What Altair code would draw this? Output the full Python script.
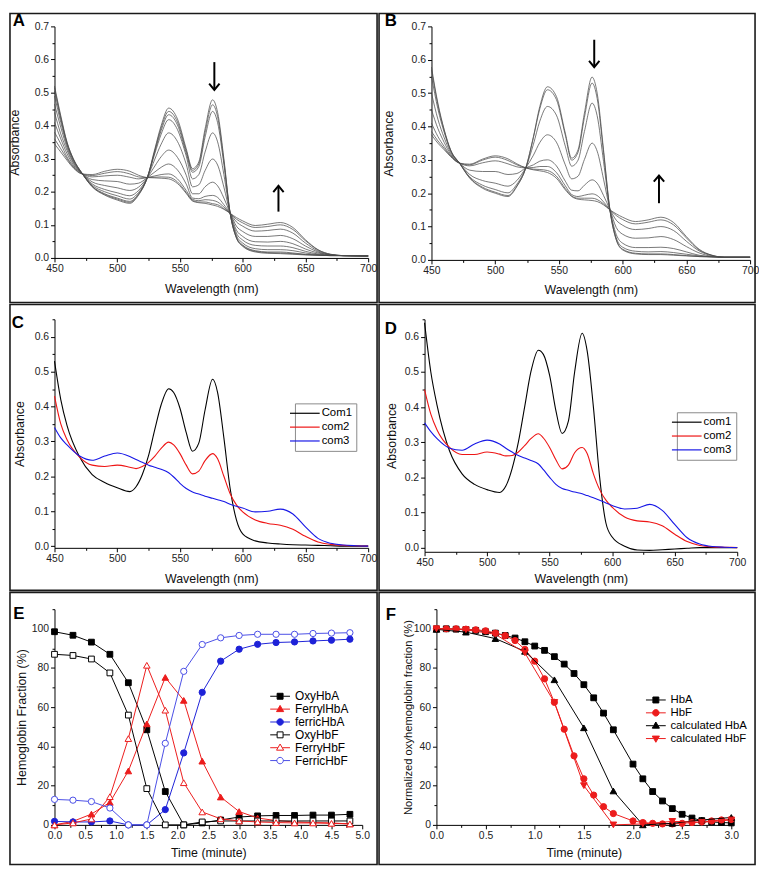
import altair as alt
import pandas as pd

FONT = "Liberation Sans"

# ---------------- data: panels A and B (time-resolved spectra) ----------------
WL_AB = [450, 455, 460, 465, 472, 480, 490, 500, 510, 517, 524, 530, 535, 541, 548, 555, 560,
         565, 570, 576, 580, 585, 590, 595, 600, 610, 620, 630, 640, 650, 660, 670, 680, 700]

A_ROWS = [
    [0.52, 0.515, 0.505, 0.49, 0.465, 0.44, 0.41, 0.38, 0.36, 0.345],
    [0.43, 0.425, 0.42, 0.41, 0.395, 0.375, 0.36, 0.345, 0.33, 0.32],
    [0.35, 0.348, 0.345, 0.34, 0.333, 0.325, 0.315, 0.305, 0.3, 0.295],
    [0.3, 0.299, 0.297, 0.294, 0.29, 0.286, 0.281, 0.277, 0.274, 0.272],
    [0.256, 0.256, 0.255, 0.255, 0.255, 0.255, 0.255, 0.255, 0.254, 0.254],
    [0.215, 0.216, 0.217, 0.22, 0.224, 0.23, 0.237, 0.245, 0.249, 0.252],
    [0.19, 0.192, 0.194, 0.2, 0.207, 0.219, 0.233, 0.248, 0.256, 0.262],
    [0.175, 0.178, 0.181, 0.188, 0.197, 0.212, 0.231, 0.25, 0.261, 0.268],
    [0.165, 0.168, 0.171, 0.178, 0.188, 0.204, 0.223, 0.244, 0.254, 0.262],
    [0.19, 0.192, 0.194, 0.198, 0.204, 0.214, 0.226, 0.239, 0.245, 0.25],
    [0.243, 0.243, 0.243, 0.243, 0.243, 0.243, 0.243, 0.243, 0.243, 0.243],
    [0.33, 0.326, 0.322, 0.316, 0.299, 0.278, 0.26, 0.248, 0.244, 0.242],
    [0.4, 0.393, 0.385, 0.374, 0.344, 0.306, 0.274, 0.252, 0.245, 0.241],
    [0.453, 0.443, 0.433, 0.418, 0.378, 0.326, 0.284, 0.254, 0.244, 0.239],
    [0.42, 0.411, 0.402, 0.388, 0.352, 0.304, 0.266, 0.239, 0.23, 0.225],
    [0.33, 0.324, 0.317, 0.308, 0.283, 0.25, 0.223, 0.204, 0.198, 0.195],
    [0.27, 0.265, 0.259, 0.239, 0.215, 0.194, 0.181, 0.177, 0.174, 0.172],
    [0.29, 0.284, 0.276, 0.252, 0.221, 0.194, 0.179, 0.173, 0.169, 0.167],
    [0.39, 0.379, 0.365, 0.32, 0.264, 0.215, 0.186, 0.176, 0.169, 0.165],
    [0.478, 0.463, 0.443, 0.378, 0.299, 0.229, 0.189, 0.174, 0.164, 0.16],
    [0.44, 0.427, 0.409, 0.351, 0.281, 0.218, 0.183, 0.169, 0.161, 0.156],
    [0.3, 0.293, 0.283, 0.252, 0.214, 0.181, 0.161, 0.154, 0.149, 0.147],
    [0.135, 0.135, 0.135, 0.135, 0.135, 0.135, 0.135, 0.135, 0.135, 0.135],
    [0.06, 0.061, 0.063, 0.068, 0.075, 0.084, 0.096, 0.109, 0.117, 0.122],
    [0.035, 0.037, 0.039, 0.045, 0.054, 0.065, 0.08, 0.096, 0.106, 0.112],
    [0.018, 0.02, 0.022, 0.028, 0.038, 0.049, 0.065, 0.081, 0.092, 0.098],
    [0.014, 0.016, 0.018, 0.025, 0.036, 0.048, 0.065, 0.083, 0.095, 0.102],
    [0.013, 0.015, 0.018, 0.025, 0.036, 0.05, 0.068, 0.087, 0.1, 0.107],
    [0.011, 0.013, 0.015, 0.022, 0.031, 0.043, 0.058, 0.075, 0.086, 0.092],
    [0.009, 0.01, 0.011, 0.015, 0.02, 0.027, 0.036, 0.045, 0.052, 0.055],
    [0.008, 0.008, 0.009, 0.01, 0.012, 0.015, 0.018, 0.021, 0.024, 0.025],
    [0.007, 0.007, 0.007, 0.008, 0.008, 0.009, 0.009, 0.01, 0.011, 0.011],
    [0.007, 0.007, 0.007, 0.007, 0.007, 0.007, 0.007, 0.007, 0.007, 0.007],
    [0.006, 0.006, 0.006, 0.006, 0.006, 0.006, 0.006, 0.006, 0.006, 0.006],
]

B_ROWS = [
    [0.578, 0.57, 0.55, 0.5, 0.45, 0.41, 0.385, 0.375],
    [0.47, 0.465, 0.453, 0.422, 0.394, 0.37, 0.357, 0.35],
    [0.39, 0.388, 0.382, 0.366, 0.352, 0.34, 0.334, 0.33],
    [0.33, 0.329, 0.327, 0.322, 0.317, 0.313, 0.311, 0.31],
    [0.29, 0.29, 0.29, 0.29, 0.29, 0.29, 0.29, 0.29],
    [0.245, 0.246, 0.249, 0.256, 0.269, 0.282, 0.285, 0.287],
    [0.215, 0.218, 0.224, 0.238, 0.265, 0.291, 0.299, 0.302],
    [0.2, 0.203, 0.211, 0.23, 0.265, 0.297, 0.308, 0.312],
    [0.19, 0.193, 0.201, 0.221, 0.256, 0.288, 0.298, 0.303],
    [0.22, 0.222, 0.227, 0.238, 0.259, 0.279, 0.285, 0.288],
    [0.276, 0.276, 0.276, 0.276, 0.276, 0.276, 0.276, 0.276],
    [0.37, 0.367, 0.347, 0.314, 0.285, 0.277, 0.272, 0.27],
    [0.46, 0.453, 0.416, 0.352, 0.296, 0.28, 0.271, 0.267],
    [0.519, 0.51, 0.46, 0.375, 0.3, 0.28, 0.268, 0.262],
    [0.49, 0.481, 0.434, 0.353, 0.282, 0.262, 0.251, 0.245],
    [0.38, 0.374, 0.341, 0.285, 0.236, 0.222, 0.214, 0.21],
    [0.305, 0.299, 0.281, 0.243, 0.209, 0.196, 0.192, 0.19],
    [0.33, 0.323, 0.299, 0.251, 0.207, 0.19, 0.185, 0.182],
    [0.44, 0.427, 0.385, 0.301, 0.224, 0.194, 0.185, 0.18],
    [0.548, 0.53, 0.47, 0.35, 0.24, 0.198, 0.185, 0.178],
    [0.5, 0.484, 0.432, 0.326, 0.23, 0.193, 0.181, 0.175],
    [0.33, 0.322, 0.295, 0.242, 0.193, 0.174, 0.168, 0.165],
    [0.15, 0.15, 0.15, 0.15, 0.15, 0.15, 0.15, 0.15],
    [0.06, 0.061, 0.066, 0.076, 0.097, 0.119, 0.133, 0.138],
    [0.03, 0.032, 0.038, 0.05, 0.077, 0.104, 0.121, 0.128],
    [0.018, 0.02, 0.026, 0.037, 0.065, 0.091, 0.108, 0.115],
    [0.016, 0.018, 0.024, 0.037, 0.066, 0.094, 0.113, 0.12],
    [0.016, 0.018, 0.025, 0.038, 0.07, 0.1, 0.12, 0.128],
    [0.014, 0.016, 0.022, 0.034, 0.061, 0.088, 0.105, 0.112],
    [0.012, 0.013, 0.017, 0.024, 0.04, 0.056, 0.066, 0.07],
    [0.01, 0.01, 0.012, 0.014, 0.021, 0.027, 0.03, 0.032],
    [0.009, 0.009, 0.009, 0.01, 0.011, 0.013, 0.014, 0.014],
    [0.008, 0.008, 0.008, 0.008, 0.008, 0.008, 0.008, 0.008],
    [0.008, 0.008, 0.008, 0.008, 0.008, 0.008, 0.008, 0.008],
]

ARROWS_A = {"x": [577.4, 628.5], "tail": [0.592, 0.140], "tip": [0.508, 0.218]}
ARROWS_B = {"x": [577.7, 628.5], "tail": [0.66, 0.17], "tip": [0.578, 0.253]}

# ---------------- data: panels C and D (component spectra) ----------------
WL_CD = [450, 455, 460, 470, 480, 490, 500, 510, 515, 520, 525, 530, 535, 541, 545, 550, 555, 560,
         565, 570, 576, 580, 585, 590, 595, 600, 610, 620, 630, 640, 650, 660, 670, 680, 690, 700]
C_COM1 = [0.53, 0.42, 0.345, 0.255, 0.205, 0.182, 0.167, 0.156, 0.17, 0.205, 0.26, 0.335, 0.405, 0.451,
          0.44, 0.395, 0.325, 0.272, 0.295, 0.39, 0.478, 0.44, 0.31, 0.165, 0.075, 0.035, 0.015, 0.009,
          0.006, 0.004, 0.003, 0.002, 0.001, 0.0, 0.0, 0.0]
C_COM2 = [0.43, 0.35, 0.305, 0.255, 0.232, 0.228, 0.232, 0.226, 0.222, 0.228, 0.24, 0.258, 0.28, 0.298,
          0.29, 0.265, 0.232, 0.207, 0.215, 0.245, 0.265, 0.25, 0.2, 0.15, 0.118, 0.098, 0.075, 0.065,
          0.06, 0.048, 0.028, 0.012, 0.005, 0.002, 0.001, 0.0]
C_COM3 = [0.34, 0.31, 0.29, 0.258, 0.246, 0.258, 0.267, 0.257, 0.248, 0.24, 0.232, 0.226, 0.22, 0.21,
          0.198, 0.18, 0.165, 0.155, 0.149, 0.143, 0.137, 0.133, 0.128, 0.12, 0.114, 0.109, 0.098, 0.1,
          0.106, 0.092, 0.055, 0.022, 0.008, 0.003, 0.001, 0.0]
D_COM1 = [0.64, 0.5, 0.405, 0.275, 0.21, 0.18, 0.165, 0.157, 0.175, 0.225, 0.3, 0.4, 0.5, 0.562,
          0.55, 0.49, 0.39, 0.325, 0.36, 0.5, 0.61, 0.56, 0.4, 0.2, 0.07, 0.03, 0.004, -0.007,
          -0.008, -0.006, -0.004, -0.002, 0.0, 0.0, 0.0, 0.0]
D_COM2 = [0.45, 0.38, 0.335, 0.285, 0.265, 0.265, 0.272, 0.266, 0.261, 0.262, 0.272, 0.29, 0.31, 0.324,
          0.312, 0.285, 0.25, 0.224, 0.235, 0.27, 0.285, 0.268, 0.21, 0.165, 0.135, 0.115, 0.087, 0.076,
          0.073, 0.062, 0.038, 0.017, 0.006, 0.002, 0.001, 0.0]
D_COM3 = [0.355, 0.33, 0.31, 0.283, 0.277, 0.295, 0.306, 0.295, 0.283, 0.272, 0.262, 0.255, 0.248, 0.238,
          0.222, 0.2, 0.18, 0.168, 0.163, 0.158, 0.153, 0.148, 0.142, 0.135, 0.127, 0.12, 0.11, 0.112,
          0.123, 0.106, 0.066, 0.028, 0.01, 0.003, 0.001, 0.0]

# ---------------- data: panel E (species fractions) ----------------
E_T = [0.0, 0.3, 0.6, 0.9, 1.2, 1.5, 1.8, 2.1, 2.4, 2.7, 3.0, 3.3, 3.6, 3.9, 4.2, 4.5, 4.8]
E_SERIES = {
    "OxyHbA":    [98.5, 96.7, 93.2, 87, 72.5, 48.5, 17, 0, 1, 2.5, 4, 4.6, 4.8, 4.8, 5, 5, 5.4],
    "FerrylHbA": [0, 1.8, 5.5, 11.5, 27.5, 51.5, 75.2, 63.5, 32.5, 14.2, 6.8, 3.5, 2.2, 1.5, 1.2, 1, 0.5],
    "ferricHbA": [1.8, 1.5, 1.5, 2, 0, 0, 7.8, 36.7, 67.6, 83.5, 89.6, 92.1, 93, 93.3, 93.8, 94.2, 94.7],
    "OxyHbF":    [87, 86.4, 84.6, 77.5, 56, 18.5, 0, 0, 1.5, 2, 2, 2, 2, 2, 2, 2, 2],
    "FerryHbF":  [0, 1, 3, 14.4, 44, 81.4, 58.5, 21.5, 6.6, 3.1, 2, 1.5, 1.2, 1, 1, 0.8, 0.5],
    "FerricHbF": [13, 12.6, 11.9, 8.6, 0, 0, 41.6, 78.3, 92, 95.4, 96.6, 97.2, 97.2, 97.2, 97.6, 97.8, 98],
}
E_NAMES = ["OxyHbA", "FerrylHbA", "ferricHbA", "OxyHbF", "FerryHbF", "FerricHbF"]
E_STROKE = ["#000000", "#ec1c1c", "#1e22d8", "#000000", "#ec1c1c", "#4a4ee6"]
E_FILL = ["#000000", "#ec1c1c", "#1e22d8", "#ffffff", "#ffffff", "#ffffff"]
E_SHAPE = ["square", "triangle-up", "circle", "square", "triangle-up", "circle"]

# ---------------- data: panel F (normalized oxyhemoglobin) ----------------
F_T = [0.0, 0.1, 0.2, 0.3, 0.4, 0.5, 0.6, 0.7, 0.8, 0.9, 1.0, 1.1, 1.2, 1.3, 1.4, 1.5, 1.6, 1.7, 1.8,
       2.0, 2.1, 2.2, 2.3, 2.4, 2.5, 2.6, 2.7, 2.8, 2.9, 3.0]
F_HBA = [100, 100, 99.8, 99.6, 99.2, 98.5, 97.8, 96.6, 95.3, 93.4, 91.2, 89, 85.8, 82, 77.2, 71.5, 64.8,
         57, 48.5, 31, 23.5, 17, 12.2, 8.3, 5.4, 3.5, 2.2, 1.5, 1.2, 1]
F_HBF = [100, 100, 100, 99.8, 99.5, 99, 97.8, 96.5, 94, 89.5, 83.5, 74.5, 62.5, 48.8, 35.2, 23.5, 15.2,
         9.3, 5.8, 2, 1.2, 0.8, 0.5, 0.5, 0.8, 1.2, 1.5, 2, 2.5, 2.8]
F_TC = [0.0, 0.3, 0.6, 0.9, 1.2, 1.5, 1.8, 2.1, 2.4, 2.7, 3.0]
F_CALC_HBA = [99.7, 98.3, 95, 88.5, 74, 49.5, 17.3, 0, 0.8, 2.5, 3.8]
F_CALC_HBF = [100, 99.5, 97.2, 87.7, 62.5, 20, 0, 0.5, 1.8, 1.3, 2.5]
F_NAMES = ["HbA", "HbF", "calculated HbA", "calculated HbF"]
F_COLORS = ["#000000", "#ec1c1c", "#000000", "#ec1c1c"]
F_SHAPE = ["square", "circle", "triangle-up", "triangle-down"]

# legend symbols: line segment + marker (normalised symbol paths)
SEG = "M-2,0H-0.62M0.62,0H2"
P_SQUARE = SEG + "M-0.6,-0.6H0.6V0.6H-0.6Z"
P_TRI_UP = "M-2,0H-0.45M0.45,0H2M0,-0.75L0.72,0.5H-0.72Z"
P_TRI_DN = "M-2,0H-0.45M0.45,0H2M0,0.75L0.72,-0.5H-0.72Z"
P_CIRCLE = SEG + "M0.65,0A0.65,0.65,0,1,1,-0.65,0A0.65,0.65,0,1,1,0.65,0Z"

# ---------------- helpers ----------------
def frame(L, W, R, T, H, B):
    return alt.Chart(alt.Data(values=[{"k": 1}])).mark_rect(
        filled=False, stroke="#1a1a1a", strokeWidth=1.6
    ).encode(x=alt.value(-L), x2=alt.value(W + R), y=alt.value(-T), y2=alt.value(H + B))


def letter(ch, dx, dy):
    return alt.Chart(alt.Data(values=[{"t": ch}])).mark_text(
        font=FONT, fontSize=17, fontWeight="bold", align="center", baseline="middle", color="#000"
    ).encode(text="t:N", x=alt.value(dx), y=alt.value(dy))


def axes(df, xf, yf, xs, ys, xv, xminor, xfmt, xtitle, xtp, yv, yminor, yfmt, ytitle, ytp, ytfs=12.5):
    main = alt.Chart(df).mark_point(opacity=0).encode(
        x=alt.X(xf, type="quantitative", scale=xs,
                axis=alt.Axis(orient="bottom", values=xv, format=xfmt, title=xtitle, titlePadding=xtp,
                              grid=False, tickSize=4, labelFlush=False, labelOverlap=False)),
        y=alt.Y(yf, type="quantitative", scale=ys,
                axis=alt.Axis(orient="left", values=yv, format=yfmt, title=ytitle, titlePadding=ytp,
                              titleFontSize=ytfs, grid=False, tickSize=4, labelFlush=False,
                              labelOverlap=False)),
    )
    minor = alt.Chart(df).mark_point(opacity=0).encode(
        x=alt.X(xf, type="quantitative", scale=xs,
                axis=alt.Axis(orient="bottom", values=xminor, labels=False, domain=False, grid=False,
                              tickSize=2.5, title=None)),
        y=alt.Y(yf, type="quantitative", scale=ys,
                axis=alt.Axis(orient="left", values=yminor, labels=False, domain=False, grid=False,
                              tickSize=2.5, title=None)),
    )
    return [main, minor]


WL_TICKS = [450, 500, 550, 600, 650, 700]
WL_MINOR = [475, 525, 575, 625, 675]
ABS_TICKS = [0.0, 0.1, 0.2, 0.3, 0.4, 0.5, 0.6, 0.7]
ABS_MINOR = [0.05, 0.15, 0.25, 0.35, 0.45, 0.55, 0.65]
ABS6_TICKS = [0.0, 0.1, 0.2, 0.3, 0.4, 0.5, 0.6]
PCT_TICKS = [0, 20, 40, 60, 80, 100]
PCT_MINOR = [10, 30, 50, 70, 90, 110]


def spectra_panel(rows, arrows, ch, L, W, R, T, H, B, ytp, xtp, lab):
    df = pd.DataFrame([{"wl": w, "a": v, "curve": i}
                       for w, row in zip(WL_AB, rows) for i, v in enumerate(row)])
    xs = alt.Scale(domain=[450, 700], nice=False, zero=False)
    ys = alt.Scale(domain=[0, 0.7], nice=False, zero=False)
    lines = alt.Chart(df).mark_line(color="#4a4a4a", strokeWidth=0.75, interpolate="monotone").encode(
        x=alt.X("wl:Q", scale=xs, axis=None), y=alt.Y("a:Q", scale=ys, axis=None), detail="curve:N")
    adf = pd.DataFrame(arrows)
    adf["dir"] = ["down", "up"]
    shaft = alt.Chart(adf).mark_rule(color="#000", strokeWidth=2).encode(
        x=alt.X("x:Q", scale=xs, axis=None), y=alt.Y("tail:Q", scale=ys, axis=None), y2="tip:Q")
    head_dn = alt.Chart(adf).transform_filter(alt.datum.dir == "down").mark_point(
        shape="M-1,-1.2L0,0L1,-1.2", filled=False, stroke="#000", strokeWidth=2, size=110, opacity=1
    ).encode(x=alt.X("x:Q", scale=xs, axis=None), y=alt.Y("tip:Q", scale=ys, axis=None))
    head_up = alt.Chart(adf).transform_filter(alt.datum.dir == "up").mark_point(
        shape="M-1,1.2L0,0L1,1.2", filled=False, stroke="#000", strokeWidth=2, size=110, opacity=1
    ).encode(x=alt.X("x:Q", scale=xs, axis=None), y=alt.Y("tip:Q", scale=ys, axis=None))
    layers = [frame(L, W, R, T, H, B)] + axes(
        df, "wl", "a", xs, ys, WL_TICKS, WL_MINOR, "d", "Wavelength (nm)", xtp,
        ABS_TICKS, ABS_MINOR, ".1f", "Absorbance", ytp) + [lines, shaft, head_dn, head_up,
                                                        letter(ch, lab[0], lab[1])]
    return alt.layer(*layers).resolve_axis(x="independent", y="independent").properties(width=W, height=H)


def comp_panel(c1, c2, c3, names, ymin, ch, L, W, R, T, H, B, ytp, xtp, lab, legxy):
    recs = []
    for name, vals in zip(names, [c1, c2, c3]):
        for w, v in zip(WL_CD, vals):
            recs.append({"wl": w, "a": v, "s": name})
    df = pd.DataFrame(recs)
    xs = alt.Scale(domain=[450, 700], nice=False, zero=False)
    ys = alt.Scale(domain=[ymin, 0.65], nice=False, zero=False)
    leg = alt.Legend(orient="none", legendX=legxy[0], legendY=legxy[1], title=None,
                     symbolType="M-3,0H3", symbolSize=100, symbolStrokeWidth=1.2,
                     labelFontSize=11.5, labelFont=FONT, labelColor="#000", labelOffset=11,
                     strokeColor="#8a8a8a", fillColor="#ffffff", padding=4, rowPadding=2)
    lines = alt.Chart(df).mark_line(strokeWidth=1.1, interpolate="monotone").encode(
        x=alt.X("wl:Q", scale=xs, axis=None), y=alt.Y("a:Q", scale=ys, axis=None),
        color=alt.Color("s:N", scale=alt.Scale(domain=names, range=["#000000", "#ee1414", "#1717e6"]),
                        legend=leg))
    layers = [frame(L, W, R, T, H, B)] + axes(
        df, "wl", "a", xs, ys, WL_TICKS, WL_MINOR, "d", "Wavelength (nm)", xtp,
        ABS6_TICKS, ABS_MINOR, ".1f", "Absorbance", ytp) + [lines, letter(ch, lab[0], lab[1])]
    return alt.layer(*layers).resolve_axis(x="independent", y="independent").properties(width=W, height=H)


def marker_layers(df, name, xs, ys, stroke, fill, shape, size):
    base = alt.Chart(df).transform_filter(alt.datum.s == name)
    enc = dict(x=alt.X("t:Q", scale=xs, axis=None), y=alt.Y("v:Q", scale=ys, axis=None))
    line = base.mark_line(color=stroke, strokeWidth=1).encode(**enc)
    pts = base.mark_point(shape=shape, filled=True, fill=fill, stroke=stroke, strokeWidth=1,
                          size=size, opacity=1).encode(**enc)
    return [line, pts]


def legend_layer(names, strokes, fills, paths, lx, ly, fs, rp):
    ldf = pd.DataFrame({"s": names})
    leg = alt.Legend(orient="none", legendX=lx, legendY=ly, title=None, symbolSize=100,
                     symbolStrokeWidth=1, symbolOpacity=1, labelFontSize=fs, labelFont=FONT,
                     labelColor="#000", labelOffset=9, rowPadding=rp, padding=0)
    return alt.Chart(ldf).mark_point(filled=True, opacity=0).encode(
        x=alt.value(0), y=alt.value(0),
        color=alt.Color("s:N", scale=alt.Scale(domain=names, range=fills), legend=leg),
        stroke=alt.Stroke("s:N", scale=alt.Scale(domain=names, range=strokes), legend=leg),
        shape=alt.Shape("s:N", scale=alt.Scale(domain=names, range=paths), legend=leg),
    )


# ---------------- layout (pixels) ----------------
# row 1
A = spectra_panel(A_ROWS, ARROWS_A, "A", 45, 317, 9, 13, 234, 45, 13, 8, (-36, -5))
B = spectra_panel(B_ROWS, ARROWS_B, "B", 53, 322, 5, 13, 236, 43, 16, 7, (-41, -5))
# row 2
C = comp_panel(C_COM1, C_COM2, C_COM3, ["Com1", "com2", "com3"], -0.005, "C",
               45, 317, 9, 15, 231, 43, 8, 9, (-37, 4), (243, 85))
D = comp_panel(D_COM1, D_COM2, D_COM3, ["com1", "com2", "com3"], -0.012, "D",
               46, 316, 18, 15, 235, 39, 6, 5, (-34, 10), (255, 94))

# row 3: panel E
e_recs = [{"t": t, "v": v, "s": n} for n in E_NAMES for t, v in zip(E_T, E_SERIES[n])]
dfE = pd.DataFrame(e_recs)
xsE = alt.Scale(domain=[0, 5], nice=False, zero=False)
ysE = alt.Scale(domain=[0, 110], nice=False, zero=False)
E_layers = [frame(45, 311, 15, 17, 218, 40)] + axes(
    dfE, "t", "v", xsE, ysE, [0, 0.5, 1, 1.5, 2, 2.5, 3, 3.5, 4, 4.5, 5],
    [0.25, 0.75, 1.25, 1.75, 2.25, 2.75, 3.25, 3.75, 4.25, 4.75], ".1f", "Time (minute)", 5,
    PCT_TICKS, PCT_MINOR, "d", "Hemoglobin Fraction (%)", 3)
for n, st, fi, sh in zip(E_NAMES, E_STROKE, E_FILL, E_SHAPE):
    size = 34 if sh == "square" else (44 if sh.startswith("triangle") else 40)
    E_layers += marker_layers(dfE, n, xsE, ysE, st, fi, sh, size)
E_layers += [legend_layer(E_NAMES, E_STROKE, E_FILL,
                          [P_SQUARE, P_TRI_UP, P_CIRCLE, P_SQUARE, P_TRI_UP, P_CIRCLE], 222, 82, 12, 1),
             letter("E", -36, 5)]
E = alt.layer(*E_layers).resolve_axis(x="independent", y="independent").properties(width=311, height=218)

# row 3: panel F
f_recs = ([{"t": t, "v": v, "s": "HbA"} for t, v in zip(F_T, F_HBA)]
          + [{"t": t, "v": v, "s": "HbF"} for t, v in zip(F_T, F_HBF)]
          + [{"t": t, "v": v, "s": "calculated HbA"} for t, v in zip(F_TC, F_CALC_HBA)]
          + [{"t": t, "v": v, "s": "calculated HbF"} for t, v in zip(F_TC, F_CALC_HBF)])
dfF = pd.DataFrame(f_recs)
xsF = alt.Scale(domain=[0, 3], nice=False, zero=False)
ysF = alt.Scale(domain=[0, 110], nice=False, zero=False)
F_layers = [frame(58, 298, 24, 17, 218, 40)] + axes(
    dfF, "t", "v", xsF, ysF, [0, 0.5, 1, 1.5, 2, 2.5, 3], [0.25, 0.75, 1.25, 1.75, 2.25, 2.75],
    ".1f", "Time (minute)", 5, PCT_TICKS, PCT_MINOR, "d", "Normalized oxyhemoglobin fraction (%)", 0,
    ytfs=11.3)
for n, c, sh in zip(F_NAMES, F_COLORS, F_SHAPE):
    size = 34 if sh == "square" else (44 if sh.startswith("triangle") else 40)
    F_layers += marker_layers(dfF, n, xsF, ysF, c, c, sh, size)
F_layers += [legend_layer(F_NAMES, F_COLORS, F_COLORS, [P_SQUARE, P_CIRCLE, P_TRI_UP, P_TRI_DN],
                          216, 86, 11.5, 0),
             letter("F", -46, 6)]
F = alt.layer(*F_layers).resolve_axis(x="independent", y="independent").properties(width=298, height=218)

IND = dict(color="independent", stroke="independent", shape="independent")


def row(a, b):
    return alt.hconcat(a, b, spacing=0).resolve_scale(**IND).resolve_legend(**IND)


chart = alt.vconcat(
    row(A, B), row(C, D), row(E, F), spacing=0,
).resolve_scale(**IND).resolve_legend(**IND).properties(padding=0).configure_view(
    stroke=None
).configure_axis(
    labelFont=FONT, titleFont=FONT, labelFontSize=10.5, titleFontSize=12.5,
    labelColor="#222222", titleColor="#111111", titleFontWeight="normal",
    domainColor="#000000", tickColor="#000000", domainWidth=1, tickWidth=1, labelPadding=2,
).configure_legend(labelFont=FONT)

chart.save("out.html", embed_options={"renderer": "svg", "actions": False})
